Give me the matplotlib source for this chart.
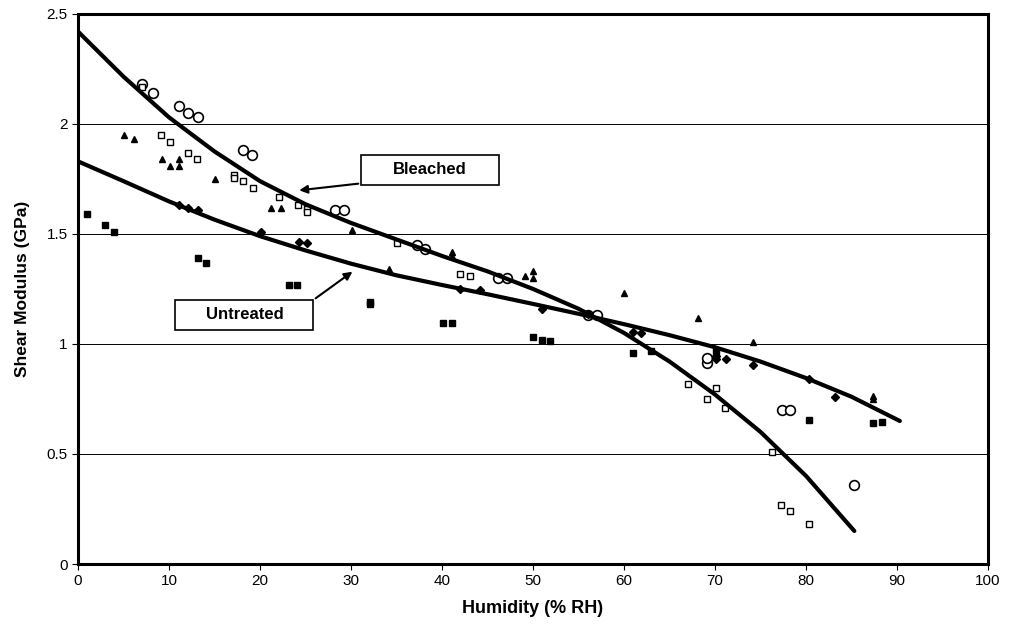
import numpy as np
import matplotlib
matplotlib.use("Agg")
import matplotlib.pyplot as plt
from matplotlib.patches import Rectangle

plt.rcParams['font.family'] = ['Liberation Sans', 'DejaVu Sans']

# scatter data (humidity %RH, shear modulus GPa)
circ_x = [7, 8.2, 11.1, 12.1, 13.2, 18.1, 19.1, 28.2, 29.2, 37.2, 38.1, 46.1, 47.1, 56, 57, 69.1, 69.1, 77.3, 78.2, 85.3]
circ_y = [2.18, 2.14, 2.08, 2.05, 2.03, 1.88, 1.86, 1.61, 1.61, 1.45, 1.43, 1.30, 1.30, 1.13, 1.13, 0.915, 0.935, 0.70, 0.70, 0.36]

osq_x = [7, 9.1, 10.1, 12.1, 13.1, 17.1, 17.1, 18.1, 19.2, 22.1, 24.2, 25.2, 25.2, 35, 42, 43.1, 67, 70.1, 69.1, 71.1, 76.2, 77.2, 78.2, 80.3]
osq_y = [2.17, 1.95, 1.92, 1.87, 1.84, 1.77, 1.755, 1.74, 1.71, 1.67, 1.63, 1.615, 1.60, 1.46, 1.32, 1.31, 0.82, 0.80, 0.75, 0.71, 0.51, 0.27, 0.24, 0.18]

tri_x = [5.05, 6.1, 9.2, 10.1, 11.1, 11.1, 15.1, 21.2, 22.3, 30.1, 34.2, 41.1, 41.1, 49.1, 50, 50, 60, 68.1, 74.2, 87.3, 87.3]
tri_y = [1.95, 1.93, 1.84, 1.81, 1.84, 1.81, 1.75, 1.62, 1.62, 1.52, 1.34, 1.42, 1.40, 1.31, 1.33, 1.30, 1.23, 1.12, 1.01, 0.765, 0.75]

dia_x = [11.1, 12.1, 13.2, 20.1, 24.3, 25.2, 42, 44.2, 51, 56, 61, 61.9, 70.1, 70.1, 71.2, 74.2, 80.3, 83.2]
dia_y = [1.63, 1.62, 1.61, 1.51, 1.465, 1.46, 1.25, 1.245, 1.16, 1.135, 1.055, 1.05, 0.945, 0.93, 0.93, 0.905, 0.84, 0.76]

fsq_x = [1, 3, 4, 13.2, 14.1, 23.2, 24.1, 32.1, 32.1, 40.1, 41.1, 50, 51, 51.9, 61, 63, 70.1, 80.3, 87.3, 88.3]
fsq_y = [1.59, 1.54, 1.51, 1.39, 1.37, 1.27, 1.27, 1.18, 1.19, 1.094, 1.094, 1.03, 1.02, 1.015, 0.96, 0.97, 0.97, 0.655, 0.64, 0.645]

# trend lines
bl_x = [0, 5, 10, 15, 20, 25, 30, 35, 40, 45, 50, 55, 60, 65, 70, 75, 80, 85.3]
bl_y = [2.42, 2.215, 2.03, 1.875, 1.74, 1.635, 1.55, 1.475, 1.40, 1.33, 1.25, 1.16, 1.05, 0.92, 0.77, 0.60, 0.40, 0.15]
un_x = [0, 5, 10, 15, 20, 25, 30, 35, 40, 45, 50, 55, 60, 65, 70, 75, 80, 85, 90.3]
un_y = [1.83, 1.74, 1.648, 1.565, 1.49, 1.425, 1.365, 1.312, 1.268, 1.226, 1.182, 1.137, 1.09, 1.04, 0.985, 0.92, 0.845, 0.76, 0.65]

xticks = [0, 10, 20, 30, 40, 50, 60, 70, 80, 90, 100]
yticks = [0, 0.5, 1, 1.5, 2, 2.5]
ytick_labels = ['0', '0.5', '1', '1.5', '2', '2.5']

fig = plt.figure(figsize=(10.09, 6.33), dpi=100)
ax = fig.add_axes([0.0773, 0.109, 0.902, 0.869])

ax.set_xlim(0, 100)
ax.set_ylim(0, 2.5)
for yv in yticks[1:-1]:
    ax.axhline(yv, color='black', lw=0.7, zorder=1)

ax.plot(circ_x, circ_y, 'o', ms=7, mfc='white', mec='black', mew=1.2, ls='none', zorder=3)
ax.plot(osq_x, osq_y, 's', ms=4.3, mfc='white', mec='black', mew=1.0, ls='none', zorder=3)
ax.plot(tri_x, tri_y, '^', ms=5, color='black', ls='none', zorder=3)
ax.plot(dia_x, dia_y, 'D', ms=4, color='black', ls='none', zorder=3)
ax.plot(fsq_x, fsq_y, 's', ms=4.5, color='black', ls='none', zorder=3)

ax.plot(bl_x, bl_y, color='black', lw=3, solid_capstyle='round', solid_joinstyle='round', zorder=4)
ax.plot(un_x, un_y, color='black', lw=3, solid_capstyle='round', solid_joinstyle='round', zorder=4)

# label boxes with arrows
ax.add_patch(Rectangle((31.1, 1.723), 15.2, 0.136, fc='white', ec='black', lw=1.2, zorder=5))
ax.text(38.7, 1.791, 'Bleached', ha='center', va='center', fontsize=12, fontweight='bold', zorder=6)
ax.annotate('', xy=(24.0, 1.697), xytext=(31.1, 1.73),
            arrowprops=dict(arrowstyle='-|>', color='black', lw=1.5, mutation_scale=12), zorder=6)

ax.add_patch(Rectangle((10.66, 1.064), 15.2, 0.136, fc='white', ec='black', lw=1.2, zorder=5))
ax.text(18.3, 1.132, 'Untreated', ha='center', va='center', fontsize=12, fontweight='bold', zorder=6)
ax.annotate('', xy=(30.4, 1.336), xytext=(25.86, 1.2),
            arrowprops=dict(arrowstyle='-|>', color='black', lw=1.5, mutation_scale=12), zorder=6)

ax.set_xticks(xticks)
ax.set_yticks(yticks)
ax.set_yticklabels(ytick_labels)
ax.tick_params(labelsize=11, length=4, width=0.8, direction='out')
for s in ax.spines.values():
    s.set_linewidth(2.2)

ax.set_xlabel('Humidity (% RH)', fontsize=13, fontweight='bold', labelpad=8)
ax.set_ylabel('Shear Modulus (GPa)', fontsize=12.5, fontweight='bold', labelpad=12)

fig.savefig('out.png', dpi=100)
